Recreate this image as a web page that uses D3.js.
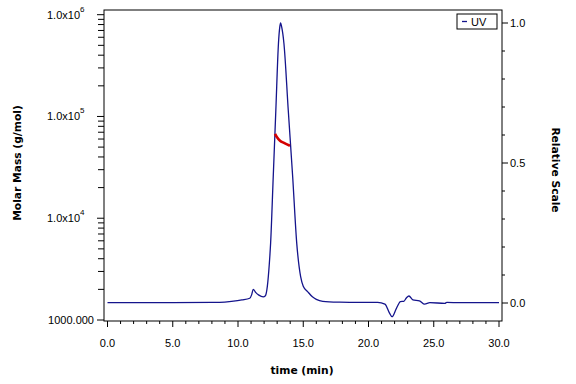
<!DOCTYPE html>
<html>
<head>
<meta charset="utf-8">
<script src="https://cdn.jsdelivr.net/npm/d3@7"></script>
<style>
  body { margin: 0; background: #fff; }
  text { font-family: "Liberation Sans", Arial, sans-serif; }
  .title { font-family: "DejaVu Sans", sans-serif; font-weight: bold; font-size: 10.7px; }
</style>
</head>
<body>
<div id="chart"></div>
<script>
// UV trace (relative scale)
var uvTime = [0, 5, 8, 8.6, 9.5, 10.3, 10.9, 11.05, 11.17, 11.35, 11.6, 11.93, 12.1, 12.25, 12.4, 12.5,
    12.7, 12.9, 13.1, 13.2, 13.26, 13.35, 13.52, 13.85, 14.19, 14.5, 14.8, 15.0, 15.35, 15.7,
    16.0, 16.5, 17.8, 19.3, 20.7, 21.26, 21.6, 21.8, 22.14, 22.45, 22.7, 22.9, 23.1, 23.4,
    23.9, 24.3, 24.7, 25.85, 26.0, 27, 30];
var uvValue = [0.001, 0.001, 0.002, 0.0025, 0.006, 0.011, 0.017, 0.03, 0.049, 0.038, 0.028, 0.022, 0.026, 0.06, 0.14, 0.214,
    0.451, 0.689, 0.927, 0.985, 1.0, 0.985, 0.927, 0.689, 0.451, 0.214, 0.094, 0.06, 0.04, 0.022,
    0.013, 0.006, 0.003, 0.002, 0.002, -0.004, -0.035, -0.049, -0.019, 0.005, 0.006, 0.018, 0.025, 0.011,
    0.008, -0.004, 0.001, -0.001, 0.002, 0.001, 0.001];

// molar mass across the peak
var mmTime = [12.84, 12.99, 13.22, 13.52, 13.98];
var mmValue = [67300, 62500, 57800, 54900, 51600];

var xTicks = [0, 5, 10, 15, 20, 25, 30];
var leftTicks = [1000, 1e4, 1e5, 1e6];
var rightTicks = [0, 0.5, 1.0];

var W = 576, H = 384;
var frame = {left: 104, right: 502, top: 10, bottom: 321};

var svg = d3.select("#chart").append("svg")
    .attr("width", W)
    .attr("height", H);

var x = d3.scaleLinear().domain([0, 30]).range([107.5, 499]);
var yMM = d3.scaleLog().domain([1000, 1e6]).range([320, 14.7]);
var yRel = d3.scaleLinear().domain([0, 1]).range([303, 23]);

// frame
svg.append("rect")
    .attr("x", frame.left).attr("y", frame.top)
    .attr("width", frame.right - frame.left)
    .attr("height", frame.bottom - frame.top)
    .attr("fill", "none").attr("stroke", "#000").attr("stroke-width", 1);

// bottom axis
var xMinor = d3.range(0, 31, 1);
svg.selectAll("line.xminor").data(xMinor).enter().append("line")
    .attr("x1", function (d) { return x(d); }).attr("x2", function (d) { return x(d); })
    .attr("y1", frame.bottom).attr("y2", function (d) { return d % 5 === 0 ? frame.bottom + 6 : frame.bottom + 3; })
    .attr("stroke", "#000");
svg.selectAll("text.xlab").data(xTicks).enter().append("text")
    .attr("x", function (d) { return x(d); }).attr("y", 347)
    .attr("text-anchor", "middle").attr("font-size", 11)
    .text(function (d) { return d.toFixed(1); });

// left axis
var leftMinor = [];
[1000, 1e4, 1e5].forEach(function (dec) {
    for (var k = 2; k <= 9; k++) leftMinor.push(dec * k);
});
svg.selectAll("line.lminor").data(leftMinor).enter().append("line")
    .attr("x1", frame.left - 6).attr("x2", frame.left)
    .attr("y1", function (d) { return yMM(d); }).attr("y2", function (d) { return yMM(d); })
    .attr("stroke", "#000");
svg.selectAll("line.lmajor").data(leftTicks).enter().append("line")
    .attr("x1", frame.left - 7).attr("x2", frame.left)
    .attr("y1", function (d) { return yMM(d); }).attr("y2", function (d) { return yMM(d); })
    .attr("stroke", "#000");
var lab = svg.selectAll("text.ylab").data(leftTicks).enter().append("text")
    .attr("x", function (d) { return d === 1000 ? 94 : 47; })
    .attr("y", function (d) { return yMM(d) + 4; })
    .attr("text-anchor", function (d) { return d === 1000 ? "end" : "start"; })
    .attr("font-size", 11);
lab.each(function (d) {
    var t = d3.select(this);
    if (d === 1000) {
        t.text("1000.000");
    } else {
        t.append("tspan").text("1.0x10");
        t.append("tspan").attr("font-size", 8).attr("dy", -7).text(Math.round(Math.log10(d)));
    }
});

// right axis
var rightMinor = d3.range(0, 11).map(function (i) { return i / 10; });
svg.selectAll("line.rminor").data(rightMinor).enter().append("line")
    .attr("x1", frame.right).attr("x2", function (d, i) { return i % 5 === 0 ? frame.right + 6 : frame.right + 3; })
    .attr("y1", function (d) { return yRel(d); }).attr("y2", function (d) { return yRel(d); })
    .attr("stroke", "#000");
svg.selectAll("text.rlab").data(rightTicks).enter().append("text")
    .attr("x", 510).attr("y", function (d) { return yRel(d) + 4; })
    .attr("font-size", 11)
    .text(function (d) { return d.toFixed(1); });

// axis titles
svg.append("text").attr("class", "title")
    .attr("transform", "translate(21,163) rotate(-90)")
    .attr("text-anchor", "middle")
    .text("Molar Mass (g/mol)");
svg.append("text").attr("class", "title")
    .attr("x", 302).attr("y", 374)
    .attr("text-anchor", "middle")
    .text("time (min)");
svg.append("text").attr("class", "title")
    .attr("transform", "translate(552,170) rotate(90)")
    .attr("text-anchor", "middle")
    .text("Relative Scale");

// UV trace
var uvData = uvTime.map(function (t, i) { return [t, uvValue[i]]; });
svg.append("path")
    .datum(uvData)
    .attr("fill", "none").attr("stroke", "#14148c").attr("stroke-width", 1.3)
    .attr("d", d3.line()
        .x(function (d) { return x(d[0]); })
        .y(function (d) { return yRel(d[1]); })
        .curve(d3.curveMonotoneX));

// molar mass
var mmData = mmTime.map(function (t, i) { return [t, mmValue[i]]; });
svg.append("path")
    .datum(mmData)
    .attr("fill", "none").attr("stroke", "#d40000").attr("stroke-width", 2.6)
    .attr("d", d3.line()
        .x(function (d) { return x(d[0]); })
        .y(function (d) { return yMM(d[1]); })
        .curve(d3.curveMonotoneX));

// legend
var lg = svg.append("g").attr("transform", "translate(457,14)");
lg.append("rect").attr("width", 40).attr("height", 15)
    .attr("fill", "#fff").attr("stroke", "#000");
lg.append("line").attr("x1", 5).attr("x2", 10).attr("y1", 7.5).attr("y2", 7.5)
    .attr("stroke", "#14148c").attr("stroke-width", 1.3);
lg.append("text").attr("x", 14).attr("y", 11.5).attr("font-size", 11).text("UV");
</script>
</body>
</html>
